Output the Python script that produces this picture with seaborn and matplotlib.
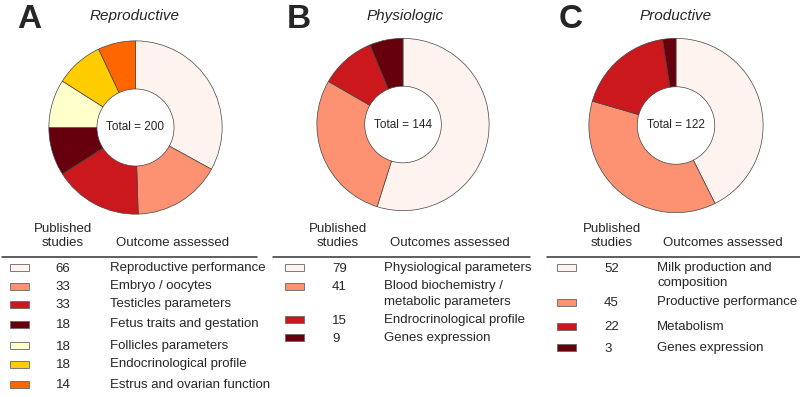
import numpy as np
import matplotlib
matplotlib.use("Agg")
import matplotlib.pyplot as plt
import seaborn as sns

sns.set_style("white")
plt.rcParams['font.family'] = ['Liberation Sans', 'DejaVu Sans']

# data
repro_labels = ['Reproductive performance', 'Embryo / oocytes', 'Testicles parameters',
                'Fetus traits and gestation', 'Follicles parameters', 'Endocrinological profile',
                'Estrus and ovarian function']
repro_values = [66, 33, 33, 18, 18, 18, 14]
repro_colors = ['#FEF3EE', '#FC9272', '#CB181D', '#67000D', '#FFFFCC', '#FFCC00', '#FF6600']

physio_labels = ['Physiological parameters', 'Blood biochemistry /\nmetabolic parameters',
                 'Endrocrinological profile', 'Genes expression']
physio_values = [79, 41, 15, 9]
physio_colors = ['#FEF3EE', '#FC9272', '#CB181D', '#67000D']

prod_labels = ['Milk production and\ncomposition', 'Productive performance',
               'Metabolism', 'Genes expression']
prod_values = [52, 45, 22, 3]
prod_colors = ['#FEF3EE', '#FC9272', '#CB181D', '#67000D']

W, H = 800, 397
fig = plt.figure(figsize=(W / 100, H / 100), dpi=100)

# overlay axes in pixel units for text / table
tab = fig.add_axes([0, 0, 1, 1])
tab.set_xlim(0, W)
tab.set_ylim(H, 0)
tab.axis('off')


def donut(cx, cy, r, values, colors, total_txt):
    ax = fig.add_axes([(cx - r) / W, (H - cy - r) / H, 2 * r / W, 2 * r / H])
    ax.pie(values, colors=colors, startangle=90, counterclock=False, radius=1,
           wedgeprops=dict(width=0.555, edgecolor='#444444', linewidth=0.5))
    ax.set_xlim(-1.01, 1.01)
    ax.set_ylim(-1.01, 1.01)
    ax.set_aspect('equal')
    ax.axis('off')
    ax.text(0, 0, total_txt, ha='center', va='center', fontsize=8.5)


donut(135.5, 127.5, 87.5, repro_values, repro_colors, 'Total = %d' % sum(repro_values))
donut(403, 124.5, 87, physio_values, physio_colors, 'Total = %d' % sum(physio_values))
donut(676, 125.5, 88, prod_values, prod_colors, 'Total = %d' % sum(prod_values))

# panel letters + titles
for letter, lx, title, tx in [('A', 17, 'Reproductive', 135),
                              ('B', 287, 'Physiologic', 405),
                              ('C', 559, 'Productive', 676)]:
    tab.text(lx, 20, letter, fontsize=24, fontweight='bold', ha='left', va='center')
    tab.text(tx, 16, title, fontsize=11, style='italic', ha='center', va='center')


def table(x0, x1, sw_x, num_x, num_ha, lab_x, hdr_x, hdr_txt, rows_y, values, colors, labels):
    tab.text(hdr_x, 236, 'Published\nstudies', ha='center', va='center',
             fontsize=9.5, linespacing=1.3)
    tab.text(lab_x + 6, 243, hdr_txt, ha='left', va='center', fontsize=9.5)
    tab.plot([x0, x1], [257, 257], color='#333333', lw=1.1)
    tab.barh(rows_y, [19] * len(values), left=sw_x, height=7, color=colors,
             edgecolor='#666666', linewidth=0.6)
    for y, v, lab in zip(rows_y, values, labels):
        tab.text(num_x, y + 1.5, str(v), ha=num_ha, va='center', fontsize=9.5)
        tab.text(lab_x, y - 5.5, lab, ha='left', va='top', fontsize=9.5, linespacing=1.35)


table(2, 257, 10, 63, 'center', 110, 63, 'Outcome assessed',
      [267, 286, 304, 324, 345, 364, 384], repro_values, repro_colors, repro_labels)
table(273, 530, 285, 332, 'left', 384, 338, 'Outcomes assessed',
      [267, 286, 319, 337], physio_values, physio_colors, physio_labels)
table(547, 800, 557, 604, 'left', 657, 612, 'Outcomes assessed',
      [267, 302, 326, 347], prod_values, prod_colors, prod_labels)

fig.savefig('out.png', dpi=100)
